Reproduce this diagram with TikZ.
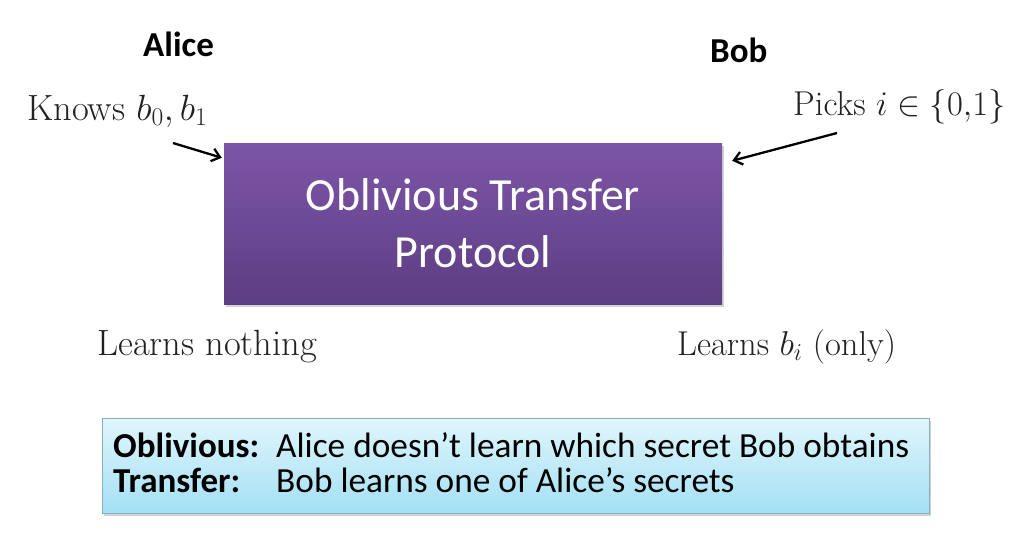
\RequirePackage{fix-cm}
\documentclass[tikz,border=0pt]{standalone}
\usepackage{fontspec}
\newfontfamily\calibri{Carlito}
\usetikzlibrary{arrows.meta,shadows,calc}
\definecolor{purpTop}{HTML}{7C56A7}
\definecolor{purpBot}{HTML}{5D3D83}
\definecolor{cyanTop}{HTML}{E0F6FC}
\definecolor{cyanBot}{HTML}{A3E0F4}
\definecolor{cyanEdge}{HTML}{86AFC4}
\definecolor{serifText}{HTML}{222222}
\tikzset{
  otbox/.style={rectangle, inner sep=0pt, minimum width=498pt, minimum height=161pt,
    top color=purpTop, bottom color=purpBot, text=white, align=center,
    font=\calibri\fontsize{46}{57}\selectfont,
    drop shadow={opacity=0.35, shadow xshift=1.5pt, shadow yshift=-2.5pt}},
  notebox/.style={rectangle, inner sep=0pt, minimum width=827pt, minimum height=95pt,
    top color=cyanTop, bottom color=cyanBot, draw=cyanEdge, line width=0.8pt,
    drop shadow={opacity=0.35, shadow xshift=1.5pt, shadow yshift=-2.5pt}},
  who/.style={inner sep=0pt, anchor=base west, font=\calibri\bfseries\fontsize{35}{42}\selectfont},
  serif/.style={inner sep=0pt, anchor=base west, text=serifText, font=\fontsize{36.5}{44}\selectfont},
  serifsmall/.style={serif, font=\fontsize{34.5}{42}\selectfont},
  notetxt/.style={inner sep=0pt, anchor=base west, font=\calibri\fontsize{35.3}{42}\selectfont},
  notehead/.style={notetxt, font=\calibri\bfseries\fontsize{35}{42}\selectfont},
  arr/.style={line width=2.3pt, -{Straight Barb[length=8pt,width=13pt,line width=2.3pt]}}
}
\begin{document}
\begin{tikzpicture}[x=1pt,y=-1pt]
\useasboundingbox[fill=white] (0,0) rectangle (1017,551);

\node[who] (alice) at (143,57) {Alice};
\node[who] (bob) at (710,63) {Bob};

\node[serif] (knows) at (27,120) {Knows $b_0, b_1$};
\node[serifsmall] (picks) at (793,115) {Picks $i \in \{0,\!1\}$};

\node[otbox] (ot) at (473,223.5) {Oblivious Transfer\\Protocol};

\coordinate (kstart) at (173,143);
\coordinate (pstart) at (837,133);
\draw[arr] (kstart) -- ($(ot.north west)+(-2,15)$);
\draw[arr] (pstart) -- ($(ot.north east)+(10,18)$);

\node[serif] (alearn) at (97,355) {Learns nothing};
\node[serifsmall] (blearn) at (677,355) {Learns $b_i$ (only)};

\node[notebox] (note) at (515.5,465.5) {};
\node[notehead] (obl) at (113,457) {Oblivious:};
\node[notetxt] (obltxt) at (276,457) {Alice doesn’t learn which secret Bob obtains};
\node[notehead] (tra) at (113,492) {Transfer:};
\node[notetxt] (tratxt) at (276,492) {Bob learns one of Alice’s secrets};
\end{tikzpicture}
\end{document}
